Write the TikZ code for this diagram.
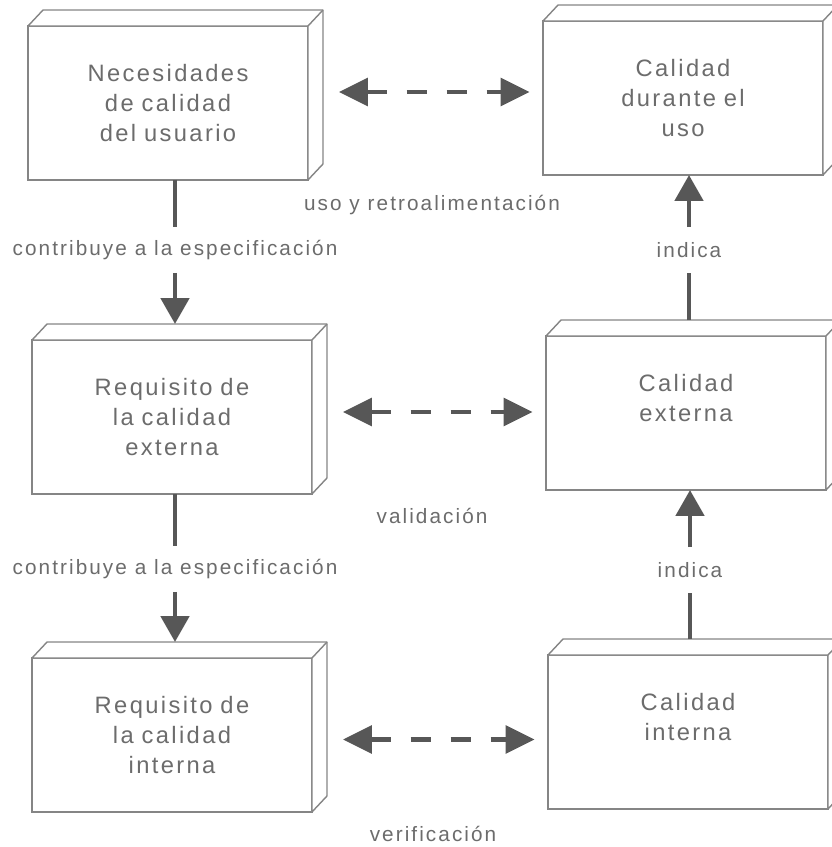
\documentclass[tikz,border=0pt]{standalone}
\usepackage{fontspec}
\newfontfamily\boxfont[LetterSpace=10]{Liberation Sans}
\usepackage{tikz}
\usetikzlibrary{calc}
\usetikzlibrary{positioning}
\usetikzlibrary{arrows.meta}
\definecolor{inkgray}{HTML}{575757}
\definecolor{textgray}{HTML}{6C6C6C}
\definecolor{edgegray}{HTML}{858585}
\tikzstyle{slab}=[%
  draw=edgegray,
  fill=white,
  line width=0.8pt,
  inner sep=0pt,
  outer sep=0pt,
  minimum height=3.08cm,
  minimum width=5.6cm,
  text width=5.2cm,
  align=center,
  text=textgray,
  font=\boxfont\fontsize{13.5}{17}\selectfont
]
\tikzstyle{tag}=[%
  fill=white,
  inner xsep=2pt,
  inner ysep=0pt,
  minimum height=0.9cm,
  text=textgray,
  font=\boxfont\fontsize{11.8}{14}\selectfont
]
\tikzstyle{link}=[%
  draw=inkgray,
  line width=2.8pt,
  -{Triangle[length=0.52cm,width=0.56cm]}
]
\tikzstyle{both}=[%
  link,
  {Triangle[length=0.58cm,width=0.55cm]}-{Triangle[length=0.58cm,width=0.55cm]},
  dash pattern=on 0.4cm off 0.4cm
]

\begin{document}
\begin{tikzpicture}[x=0.02cm, y=-0.02cm]
      \useasboundingbox (0, 0) rectangle (831, 847);
      \node[slab] (nec) at (168, 103) {Necesidades\\de calidad\\del usuario};
      \node[slab] (cuso) at (683, 98) {Calidad\\durante el\\uso};
      \node[slab] (rext) at (172, 417) {Requisito de\\la calidad\\externa};
      \node[slab] (cext) at (686, 413) {Calidad\\externa\\\mbox{}};
      \node[slab] (rint) at (172, 735) {Requisito de\\la calidad\\interna};
      \node[slab] (cint) at (688, 732) {Calidad\\interna\\\mbox{}};
      % the depth of each box
      \foreach \b in {nec, cuso, rext, cext, rint, cint} {%
        \draw[draw=edgegray, fill=white, line width=0.8pt, line join=round]
          (\b.north west) -- ++(15, -16) -- ($(\b.north east)+(15, -16)$)
          -- ($(\b.south east)+(15, -16)$) -- (\b.south east) -- (\b.north east) -- cycle;
        \draw[draw=edgegray, line width=0.8pt] (\b.north east) -- ++(15, -16);
      }
      \node[tag] (spec1) at (175, 250) {contribuye a la especificación};
      \node[tag] (spec2) at (175, 569) {contribuye a la especificación};
      \node[tag] (ind1) at (689, 250) {indica};
      \node[tag] (ind2) at (690, 570) {indica};
      \node[tag] (uso) at (432, 205) {uso y retroalimentación};
      \node[tag] (valid) at (432, 516) {validación};
      \node[tag] (verif) at (433, 834) {verificación};
      \draw[link, -] (spec1.north |- nec.south) -- (spec1.north);
      \draw[link, shorten >=0.32cm] (spec1.south) -- (spec1.south |- rext.north);
      \draw[link, -] (spec2.north |- rext.south) -- (spec2.north);
      \draw[link, shorten >=0.32cm] (spec2.south) -- (spec2.south |- rint.north);
      \draw[link, -, shorten <=0.32cm] (ind2.south |- cint.north) -- (ind2.south);
      \draw[link] (ind2.north) -- (ind2.north |- cext.south);
      \draw[link, -, shorten <=0.32cm] (ind1.south |- cext.north) -- (ind1.south);
      \draw[link] (ind1.north) -- (ind1.north |- cuso.south);
      \foreach \l/\r/\s in {nec/cuso/0.22cm, rext/cext/0.1cm, rint/cint/-0.09cm} {%
        \draw[both, shorten <=0.62cm, shorten >=0.27cm]
          ([yshift=\s]\l.east) -- ([yshift=\s]\l.east -| \r.west);
      }
    \end{tikzpicture}
\end{document}
